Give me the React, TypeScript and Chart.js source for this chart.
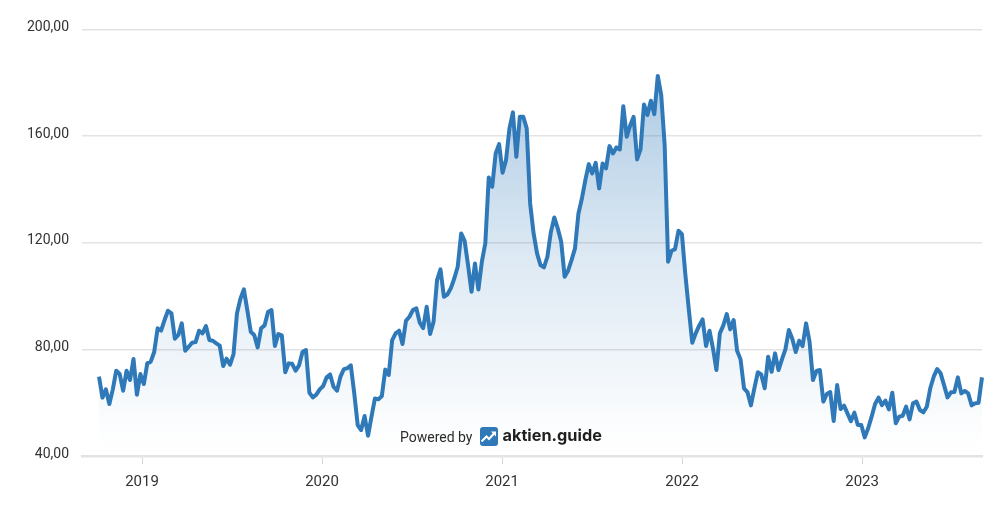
import React, { useEffect, useRef } from "react";
import { Chart, registerables } from "chart.js";

Chart.register(...registerables);

const firstYear = 2018.761;
const weekInYears = 0.01916;
const yearTicks = [2019, 2020, 2021, 2022, 2023];
const priceTicks = [40, 80, 120, 160, 200];
const prices = [
  69.75, 61.9, 65, 59.5, 65, 72, 70.75, 64.5, 72, 68.5, 76.4, 63, 70.75, 67, 74.75, 75.4, 79, 87.9, 87, 91,
  94.5, 93.5, 84, 85.4, 89.75, 79.5, 81, 82.5, 82.75, 87, 86, 88.75, 83.5, 83.25, 82.25, 81.4, 73.75, 76.5, 74.25, 78.25,
  93.5, 99, 102.5, 94.75, 86.6, 85.4, 80.75, 87.9, 89, 94, 94.75, 81.25, 85.75, 85.25, 71.4, 74.75, 74.6, 72, 74, 79,
  79.75, 63.75, 62, 63, 65, 66.25, 69.5, 70.6, 66, 64.5, 69.75, 72.6, 72.9, 74, 63.5, 51.6, 49.75, 55, 47.6, 54.75,
  61.6, 61.25, 62.5, 72.4, 70.4, 83.5, 86, 87, 82, 90.75, 92.25, 94.75, 95.4, 90, 88, 96, 85.75, 90.4, 106, 110,
  99.75, 100.6, 102.9, 106.6, 111, 123.5, 120.75, 111.6, 101.6, 112.25, 102.5, 112.9, 119.75, 144.5, 141, 153.5, 157, 146.25, 151, 162.9,
  168.9, 152.25, 167.25, 167.25, 162.9, 134.75, 123.5, 116, 111.6, 110.75, 114.75, 124, 129.5, 125.4, 120.4, 107.25, 109.5, 113.5, 117.9, 131,
  136.6, 143.5, 149.5, 146, 150, 140.4, 149.75, 147.9, 156.25, 153.5, 155.75, 155, 171.25, 159.75, 164, 167.25, 151.25, 155, 171.9, 167.9,
  173.25, 168.25, 182.6, 175.4, 156.6, 112.9, 117, 117.6, 124.5, 123.25, 108, 95, 82.5, 86, 88.9, 91.25, 81.25, 87, 80.4, 72.25,
  86, 89, 93.25, 87.5, 91, 79.5, 76.25, 65.4, 64, 59, 65.4, 71.4, 70.6, 65.4, 77.25, 71.6, 78.5, 72.25, 76.25, 80,
  87.25, 84, 79, 83.25, 81.25, 89.75, 82.9, 68.5, 71.9, 72.25, 60.4, 63.25, 64, 53.1, 66.6, 57.6, 58.9, 56, 53.1, 56.25,
  51.6, 51.6, 47, 50.4, 54.75, 59.5, 61.9, 59.1, 60.75, 57.5, 63.75, 52.25, 54.75, 55.1, 58.5, 53.75, 59.75, 60.4, 57.25, 56.4,
  58.5, 65.4, 69.75, 72.6, 71, 66.6, 62, 63.9, 64, 69.5, 63.5, 64.4, 63.5, 59, 59.75, 60, 69.5,
];

const LINE = "#2f79b9";
const GRID = "#e3e3e3";
const TEXT = "#333333";

export default function App() {
  const ref = useRef<HTMLCanvasElement>(null);

  useEffect(() => {
    const chart = new Chart(ref.current!, {
      type: "line",
      data: {
        datasets: [
          {
            data: prices.map((y, i) => ({ x: firstYear + i * weekInYears, y })),
            borderColor: LINE,
            borderWidth: 4,
            borderJoinStyle: "round",
            pointRadius: 0,
            tension: 0,
            clip: 4,
            fill: "origin",
            backgroundColor: (ctx: any) => {
              const area = ctx.chart.chartArea;
              if (!area) return "transparent";
              const g = ctx.chart.ctx.createLinearGradient(0, area.top + 40, 0, area.bottom - 8);
              g.addColorStop(0, "rgba(47,121,185,0.4)");
              g.addColorStop(0.5, "rgba(47,121,185,0.16)");
              g.addColorStop(1, "rgba(47,121,185,0)");
              return g;
            },
          },
        ],
      },
      options: {
        responsive: false,
        animation: false,
        layout: { padding: { top: 29.5, right: 18, left: 0, bottom: 0 } },
        plugins: { legend: { display: false }, tooltip: { enabled: false } },
        scales: {
          x: {
            type: "linear",
            min: firstYear - 17 / 180,
            max: firstYear + 256 * weekInYears,
            afterBuildTicks: (s: any) => {
              s.ticks = yearTicks.map((value) => ({ value }));
            },
            afterFit: (s: any) => {
              s.height = 50;
            },
            border: { display: true, color: GRID, width: 2.5 },
            grid: { drawOnChartArea: false, drawTicks: true, tickLength: 8, tickColor: "#d8d8d8", tickWidth: 1 },
            ticks: {
              maxRotation: 0,
              padding: 9.5,
              color: TEXT,
              font: { family: "Roboto", size: 15 },
              callback: (v: any) => String(v),
            },
          },
          y: {
            min: priceTicks[0],
            max: priceTicks[priceTicks.length - 1],
            afterBuildTicks: (s: any) => {
              s.ticks = priceTicks.map((value) => ({ value }));
            },
            afterFit: (s: any) => {
              s.width = 82;
            },
            border: { display: false },
            grid: { color: GRID, lineWidth: 1.4, drawTicks: false },
            ticks: {
              padding: 13,
              labelOffset: -1.8,
              color: TEXT,
              font: { family: "Roboto", size: 14 },
              callback: (v: any) => Number(v).toFixed(2).replace(".", ","),
            },
          },
        },
      },
    });
    return () => chart.destroy();
  }, []);

  return (
    <div style={{ position: "absolute", left: 0, top: 0, width: 1000, height: 506, background: "#fff", overflow: "hidden" }}>
      <canvas ref={ref} width={1000} height={506} style={{ display: "block" }} />
      <span style={{ position: "absolute", left: 400, top: 428, font: "14px/18px Roboto", color: "#2b2b2b" }}>Powered by</span>
      <svg style={{ position: "absolute", left: 480, top: 427 }} width="18" height="19" viewBox="0 0 18 19">
        <rect width="18" height="19" rx="3" fill="#2f79b9" />
        <path d="M1.5 14.5 L6.5 9.5 L9 12 L14 6.5" fill="none" stroke="#fff" strokeWidth="2" />
        <path d="M11 4.5 L16 4.5 L16 9.5 Z" fill="#fff" />
      </svg>
      <span style={{ position: "absolute", left: 502.5, top: 424.5, font: "700 16.3px/21px Inter", color: "#1f1f1f" }}>aktien.guide</span>
    </div>
  );
}
